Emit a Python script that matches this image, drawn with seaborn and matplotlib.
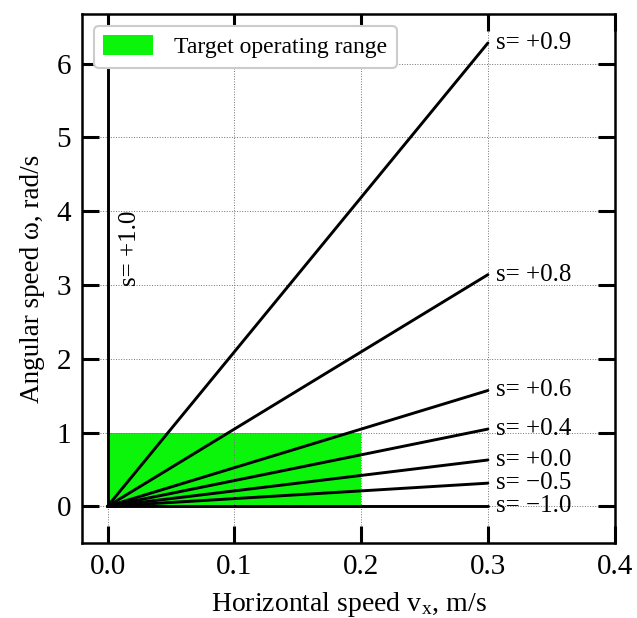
import numpy as np
import pandas as pd
import matplotlib
matplotlib.use("Agg")
import matplotlib.pyplot as plt
import seaborn as sns

# ==========================================================
# DATA
# ==========================================================

slip = [0.9, 0.8, 0.6, 0.4, 0.0, -0.5, -1.0]
omega_end = [6.28, 3.14, 1.57, 1.047, 0.628, 0.314, 0.0]
vx_ends = [0.0, 0.3]

slip_vertical = 1.0
target_vx = [0.0, 0.2]
target_omega = [0.0, 1.0]

x_ticks = [0.0, 0.1, 0.2, 0.3, 0.4]
y_ticks = [0, 1, 2, 3, 4, 5, 6]

rows = []
for s, w in zip(slip, omega_end):
    rows.append({"s": s, "vx": vx_ends[0], "omega": 0.0})
    rows.append({"s": s, "vx": vx_ends[1], "omega": w})
df = pd.DataFrame(rows)


def slip_label(s):
    sign = "+" if s >= 0 else "\u2212"
    return f"s= {sign}{abs(s):.1f}"


# ==========================================================
# STYLE
# ==========================================================

sns.set_style("ticks")
plt.rcParams["font.family"] = ["Liberation Serif", "DejaVu Serif"]
plt.rcParams["mathtext.fontset"] = "stix"
plt.rcParams.update({
    "axes.edgecolor": "black",
    "axes.labelcolor": "black",
    "text.color": "black",
    "xtick.color": "black",
    "ytick.color": "black",
})

fig = plt.figure(figsize=(6.37, 6.18), dpi=100)
ax = fig.add_axes([0.129, 0.121, 0.836, 0.856])

# ==========================================================
# PLOT
# ==========================================================

ax.fill_between(target_vx, target_omega[0], target_omega[1],
                color="#0af50a", lw=0, zorder=1,
                label="Target operating range")

sns.lineplot(data=df, x="vx", y="omega", units="s", estimator=None,
             color="black", lw=2.1, ax=ax, zorder=3, legend=False)

ax.plot([0, 0], [0, 10], color="black", lw=2.1, zorder=3)
ax.text(0.018, 3.5, slip_label(slip_vertical), rotation=90,
        ha="center", va="center", fontsize=18)

for s, w in zip(slip, omega_end):
    ax.text(vx_ends[1] + 0.006, w, slip_label(s),
            ha="left", va="center", fontsize=18)

ax.set_xlim(-0.02, 0.4)
ax.set_ylim(-0.5, 6.67)
ax.set_xticks(x_ticks)
ax.set_yticks(y_ticks)
ax.set_xticklabels([f"{t:.1f}" for t in x_ticks])

ax.set_axisbelow("line")
ax.grid(True, color="0.45", ls=":", lw=0.7)

ax.tick_params(direction="in", length=12, width=2.2, labelsize=21,
               top=True, right=True, pad=8)
for sp in ax.spines.values():
    sp.set_linewidth(1.8)

ax.set_xlabel(r"Horizontal speed v$_\mathregular{x}$, m/s", fontsize=20,
              labelpad=7)
ax.set_ylabel("Angular speed \u03c9, rad/s", fontsize=19.5, labelpad=8)

leg = ax.legend(loc="upper left", fontsize=17, fancybox=True,
                framealpha=1, edgecolor="0.8", borderpad=0.4,
                handlelength=2.1, handleheight=0.9, handletextpad=0.9)
leg.get_frame().set_linewidth(1.5)

fig.savefig("out.png", dpi=100)
